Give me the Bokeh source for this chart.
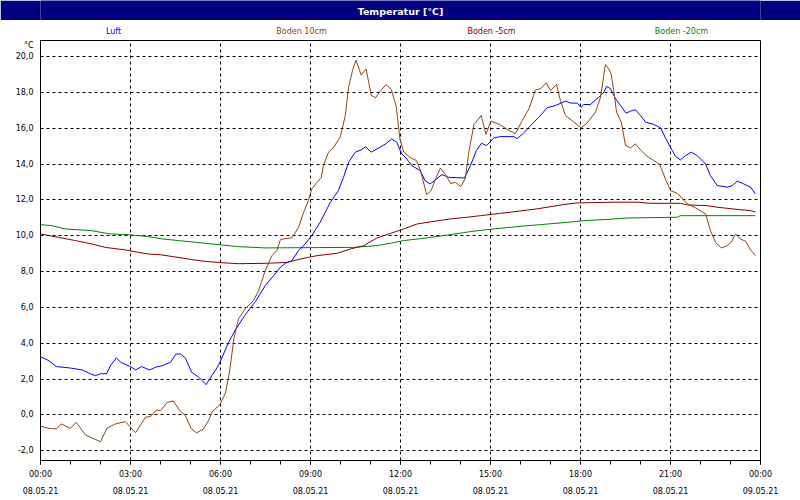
from bokeh.plotting import figure
from bokeh.layouts import column
from bokeh.models import Range1d, FixedTicker, LinearAxis
from bokeh.core.properties import value
from bokeh.embed import file_html
from bokeh.resources import INLINE

# ---------------- data (hours since 08.05.21 00:00, °C) ----------------
luft_h = [0.0,0.28,0.53,1.0,1.39,1.67,1.83,2.0,2.2,2.33,2.53,2.69,3.0,3.17,3.37,3.64,3.83,4.06,4.33,4.52,
          4.67,4.83,5.04,5.28,5.52,5.71,5.93,6.1,6.27,6.48,6.8,7.16,7.49,7.77,8.0,8.16,8.38,8.6,8.82,9.04,
          9.32,9.66,9.93,10.1,10.27,10.49,10.69,10.84,11.02,11.27,11.51,11.71,11.88,12.04,12.16,12.38,12.66,12.82,12.99,13.16,
          13.38,13.6,14.13,14.33,14.53,14.7,14.87,15.11,15.33,15.78,15.89,16.1,16.39,16.61,16.89,17.17,17.5,17.67,17.89,18.02,
          18.11,18.33,18.61,18.78,18.87,19.0,19.17,19.33,19.52,19.67,19.83,20.0,20.17,20.44,20.67,20.83,21.06,21.17,21.33,21.5,
          21.69,21.89,22.17,22.33,22.56,22.89,23.06,23.22,23.39,23.67,23.83]
luft_v = [3.25,3.03,2.70,2.62,2.51,2.29,2.19,2.30,2.30,2.75,3.18,2.92,2.70,2.51,2.70,2.51,2.66,2.75,2.94,3.40,
          3.40,3.18,2.38,2.10,1.69,2.19,2.75,3.40,4.05,4.70,5.54,6.32,7.21,7.77,8.25,8.46,8.61,9.17,9.54,10.0,
          10.75,11.86,12.52,13.26,14.10,14.66,14.79,14.97,14.66,14.90,15.13,15.40,15.21,14.57,14.38,13.91,13.63,13.07,12.89,13.11,
          13.41,13.26,13.22,13.90,14.75,15.16,15.03,15.46,15.53,15.53,15.42,15.72,16.24,16.61,17.14,17.27,17.51,17.40,17.40,17.17,
          17.32,17.32,17.73,18.01,18.33,18.20,17.64,17.27,16.84,16.95,17.03,16.71,16.34,16.21,16.02,15.46,14.75,14.42,14.23,14.47,
          14.66,14.47,14.00,13.35,12.80,12.71,12.80,13.04,12.93,12.71,12.33]

boden10_h = [0.0,0.28,0.53,0.69,1.0,1.19,1.5,2.0,2.22,2.5,2.83,3.0,3.17,3.5,3.67,3.87,4.0,4.22,4.42,4.67,
             4.83,5.02,5.2,5.43,5.6,5.71,5.99,6.16,6.3,6.45,6.6,6.82,7.1,7.27,7.49,7.71,7.88,8.0,8.38,8.6,
             8.77,8.93,9.04,9.36,9.43,9.6,9.77,9.99,10.16,10.27,10.4,10.52,10.69,10.85,11.03,11.17,11.32,11.52,11.69,11.86,
             11.98,12.11,12.33,12.53,12.67,12.87,13.02,13.17,13.33,13.5,13.67,13.83,14.01,14.16,14.29,14.45,14.69,14.85,15.01,15.3,
             15.61,15.83,16.06,16.28,16.5,16.67,16.86,17.0,17.2,17.33,17.5,17.78,18.02,18.22,18.5,18.67,18.83,18.94,19.02,19.11,
             19.2,19.36,19.5,19.67,19.83,20.0,20.22,20.44,20.64,20.83,21.0,21.22,21.36,21.56,21.83,22.17,22.33,22.5,22.69,22.89,
             23.02,23.17,23.33,23.5,23.67,23.83]
boden10_v = [-0.63,-0.75,-0.78,-0.50,-0.75,-0.41,-1.12,-1.49,-0.73,-0.50,-0.37,-0.69,-0.99,-0.13,-0.09,0.28,0.24,0.70,0.78,0.20,
             -0.04,-0.75,-1.00,-0.78,-0.32,0.15,0.60,1.20,2.40,4.30,5.36,5.92,6.38,6.94,8.05,8.89,9.17,9.80,9.88,10.47,
             11.30,11.96,12.61,13.26,13.91,14.66,14.93,15.50,16.71,18.29,19.22,19.80,18.96,19.31,17.82,17.70,18.06,18.43,18.17,17.20,
             15.40,14.66,14.35,14.20,13.63,12.29,12.52,13.17,13.78,13.41,12.91,12.98,12.74,13.20,14.80,16.20,16.71,15.65,16.39,16.21,
             15.88,15.69,16.43,17.08,18.14,18.20,18.53,18.10,18.44,17.55,16.71,16.34,16.02,16.28,16.90,17.73,19.55,19.31,19.03,18.10,
             16.90,16.34,15.04,14.90,15.13,14.79,14.42,14.20,13.98,13.17,12.52,12.37,12.15,11.78,11.56,11.22,10.29,9.63,9.32,9.44,
             9.63,10.10,9.82,9.69,9.21,8.89]

boden5_h = [0.0,0.6,1.16,1.71,2.16,2.82,3.27,3.6,4.0,4.43,5.04,5.49,6.0,6.6,7.5,8.2,8.67,9.22,9.89,10.33,
            10.78,11.22,11.67,12.11,12.56,13.11,13.67,14.22,14.67,15.33,15.89,16.56,17.44,17.89,19.11,19.89,20.33,21.33,21.56,22.22,
            22.56,23.22,23.67,23.83]
boden5_v = [10.10,9.91,9.73,9.54,9.35,9.21,9.07,8.98,8.94,8.83,8.67,8.57,8.50,8.44,8.46,8.51,8.70,8.89,9.02,9.26,
            9.45,9.88,10.13,10.38,10.66,10.80,10.94,11.03,11.12,11.25,11.36,11.50,11.74,11.83,11.87,11.87,11.81,11.81,11.72,11.68,
            11.59,11.47,11.40,11.33]

boden20_h = [0.0,0.38,0.82,1.71,2.32,2.93,3.6,4.07,4.6,5.49,6.6,7.5,10.44,11.22,11.67,12.11,12.89,13.67,14.33,14.78,
             15.89,16.67,17.56,18.11,18.89,19.56,21.22,21.33,23.83]
boden20_v = [10.62,10.56,10.38,10.28,10.10,10.06,9.95,9.82,9.73,9.58,9.39,9.32,9.35,9.45,9.58,9.73,9.88,10.06,10.23,10.32,
             10.51,10.62,10.75,10.84,10.91,10.99,11.03,11.12,11.12]

series_names = ["Luft", "Boden 10cm", "Boden -5cm", "Boden -20cm"]
series_colors = ["#0000FF", "#8B4513", "#800000", "#008000"]

x_ticks = [0, 3, 6, 9, 12, 15, 18, 21, 24]
x_minor = list(range(25))
x_time_labels = ["00:00", "03:00", "06:00", "09:00", "12:00", "15:00", "18:00", "21:00", "00:00"]
x_date_labels = ["08.05.21"] * 8 + ["09.05.21"]
y_ticks = [-2, 0, 2, 4, 6, 8, 10, 12, 14, 16, 18, 20]
y_tick_labels = ["-2,0", "0,0", "2,0", "4,0", "6,0", "8,0", "10,0", "12,0", "14,0", "16,0", "18,0", "20,0"]
title_text = "Temperatur [°C]"
unit_text = "°C"

FONT = "DejaVu Sans"
NAVY = "#000080"
UNIT_POS = 20.62          # where the unit label sits on the y axis


def strip(height, y0, y1, fill):
    f = figure(width=800, height=height, output_backend="svg", toolbar_location=None, title=None,
               x_range=Range1d(40, 760), y_range=Range1d(y1, y0),
               x_axis_type=None, y_axis_type=None,
               min_border_left=40, min_border_right=40, min_border_top=0, min_border_bottom=0,
               outline_line_color=None, background_fill_color=fill, border_fill_color=fill)
    return f


# ---------------- title bar (navy, full width) ----------------
bar = strip(20, 0, 20, NAVY)
bar.text(x=[400], y=[10.5], text=[title_text], text_align="center", text_baseline="middle",
         text_color="white", text_font=value(FONT), text_font_size="9.5px", text_font_style="bold")

# ---------------- legend row ----------------
leg = strip(20, 20, 40, "white")
leg.text(x=[113, 301, 491, 681], y=[31] * 4, text=series_names, text_align="center",
         text_baseline="middle", text_color=series_colors, text_font=value(FONT),
         text_font_size="8px")

# ---------------- main chart ----------------
p = figure(width=800, height=460, output_backend="svg", toolbar_location=None, title=None,
           x_range=Range1d(0, 24), y_range=Range1d(-2.541, 20.893),
           min_border_left=40, min_border_right=40, min_border_top=0, min_border_bottom=40,
           background_fill_color="white", border_fill_color="white")
p.outline_line_color = "black"
p.outline_line_width = 1
p.outline_line_alpha = 1

xa = p.xaxis[0]
xa.ticker = FixedTicker(ticks=x_ticks, minor_ticks=x_minor)
xa.major_label_overrides = dict(zip(x_ticks, x_time_labels))
xa.axis_line_color = "black"
xa.major_tick_line_color = "black"
xa.minor_tick_line_color = "black"
xa.major_tick_in = 0
xa.major_tick_out = 4
xa.minor_tick_in = 0
xa.minor_tick_out = 4
xa.major_label_standoff = 5
xa.major_label_text_font = FONT
xa.major_label_text_font_size = "8px"
xa.major_label_text_color = "black"

xd = LinearAxis(ticker=FixedTicker(ticks=x_ticks, minor_ticks=[]),
                major_label_overrides=dict(zip(x_ticks, x_date_labels)),
                axis_line_color=None, major_tick_line_color=None, minor_tick_line_color=None,
                major_tick_in=0, major_tick_out=0, minor_tick_in=0, minor_tick_out=0,
                major_label_standoff=5, major_label_text_font=FONT,
                major_label_text_font_size="8px", major_label_text_color="black")
p.add_layout(xd, "below")

ya = p.yaxis[0]
ya.ticker = FixedTicker(ticks=y_ticks + [UNIT_POS], minor_ticks=[])
overrides = dict(zip(y_ticks, y_tick_labels))
overrides[UNIT_POS] = unit_text
ya.major_label_overrides = overrides
ya.axis_line_color = "black"
ya.major_tick_line_color = None
ya.major_tick_in = 0
ya.major_tick_out = 0
ya.minor_tick_line_color = None
ya.major_label_standoff = 7
ya.major_label_text_font = FONT
ya.major_label_text_font_size = "8px"
ya.major_label_text_color = "black"

p.xgrid[0].ticker = FixedTicker(ticks=x_ticks)
p.ygrid[0].ticker = FixedTicker(ticks=y_ticks)
for g in (p.xgrid[0], p.ygrid[0]):
    g.grid_line_color = "black"
    g.grid_line_dash = "3 3"
    g.grid_line_width = 1
    g.grid_line_alpha = 1

p.line(boden20_h, boden20_v, line_color=series_colors[3], line_width=1)
p.line(boden5_h, boden5_v, line_color=series_colors[2], line_width=1)
p.line(luft_h, luft_v, line_color=series_colors[0], line_width=1)
p.line(boden10_h, boden10_v, line_color=series_colors[1], line_width=1)

layout = column(bar, leg, p, spacing=0)
open("out.html", "w").write(file_html(layout, INLINE))
